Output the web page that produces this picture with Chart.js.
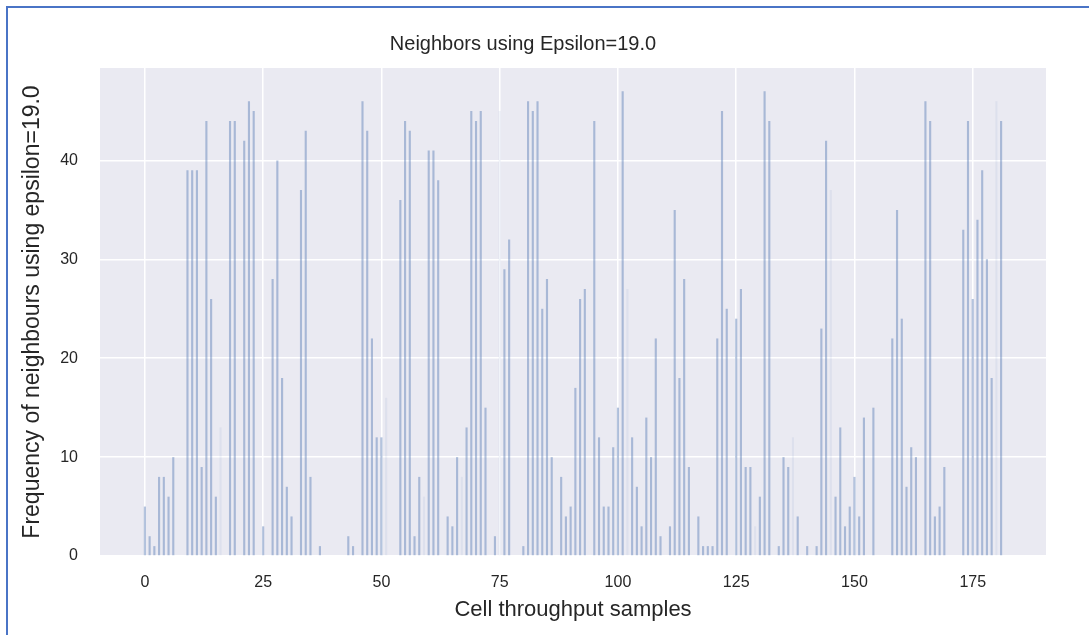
<!DOCTYPE html>
<html>
<head>
<meta charset="utf-8">
<script src="https://cdn.jsdelivr.net/npm/chart.js@4.4.1/dist/chart.umd.min.js"></script>
<style>
  html, body { margin: 0; padding: 0; background: #fff; }
  #wrap { position: relative; width: 1089px; height: 635px; overflow: hidden; }
  #frame { position: absolute; left: 6px; top: 6px; width: 1200px; height: 800px;
           border-top: 2px solid #4a74c6; border-left: 2px solid #4a74c6; pointer-events: none; }
</style>
</head>
<body>
<div id="wrap">
  <canvas id="chart" width="1089" height="635"></canvas>
  <div id="frame"></div>
</div>
<script>
// neighbour counts per sample
const counts = [
  5, 2, 1, 8, 8, 6, 10, 0, 0, 39,
  39, 39, 9, 44, 26, 6, 13, 0, 44, 44,
  0, 42, 46, 45, 0, 3, 0, 28, 40, 18,
  7, 4, 0, 37, 43, 8, 0, 1, 0, 0,
  0, 0, 0, 2, 1, 0, 46, 43, 22, 12,
  12, 16, 0, 0, 36, 44, 43, 2, 8, 6,
  41, 41, 38, 0, 4, 3, 10, 8, 13, 45,
  44, 45, 15, 0, 2, 45, 29, 32, 0, 0,
  1, 46, 45, 46, 25, 28, 10, 0, 8, 4,
  5, 17, 26, 27, 0, 44, 12, 5, 5, 11,
  15, 47, 27, 12, 7, 3, 14, 10, 22, 2,
  0, 3, 35, 18, 28, 9, 0, 4, 1, 1,
  1, 22, 45, 25, 0, 24, 27, 9, 9, 3,
  6, 47, 44, 0, 1, 10, 9, 12, 4, 0,
  1, 0, 1, 23, 42, 37, 6, 13, 3, 5,
  8, 4, 14, 0, 15, 0, 0, 0, 22, 35,
  24, 7, 11, 10, 0, 46, 44, 4, 5, 9,
  0, 0, 0, 33, 44, 26, 34, 39, 30, 18,
  46, 44
];
// samples whose bars show up only very faintly in the picture
const faintSamples = [16, 51, 59, 67, 75, 102, 129, 137, 145, 180];
const xTicks = [0, 25, 50, 75, 100, 125, 150, 175];
const yTicks = [0, 10, 20, 30, 40];

const points = counts.map((v, i) => ({ x: i, y: v }));

const plotBg = {
  id: 'plotBg',
  beforeDraw(chart) {
    const { ctx, chartArea: a } = chart;
    ctx.save();
    ctx.fillStyle = '#eaeaf2';
    ctx.fillRect(a.left, a.top, a.right - a.left, a.bottom - a.top);
    ctx.restore();
  }
};

const FONT = "'Liberation Sans', Arial, sans-serif";
const TXT = '#262626';

new Chart(document.getElementById('chart').getContext('2d'), {
  type: 'bar',
  data: {
    datasets: [{
      data: points,
      backgroundColor: ctx => faintSamples.includes(ctx.dataIndex) ? 'rgba(76,114,176,0.08)' : 'rgba(76,114,176,0.42)',
      borderWidth: 0,
      barPercentage: 0.45,
      categoryPercentage: 1
    }]
  },
  options: {
    responsive: false,
    animation: false,
    events: [],
    layout: { padding: { left: 0, right: 43, top: 0, bottom: 0 } },
    plugins: {
      legend: { display: false },
      tooltip: { enabled: false },
      title: {
        display: true,
        text: 'Neighbors using Epsilon=19.0',
        color: TXT,
        font: { family: FONT, size: 20, weight: 'normal' },
        padding: { top: 32, bottom: 12 }
      }
    },
    scales: {
      x: {
        type: 'linear',
        offset: false,
        min: -9.49,
        max: 190.49,
        afterBuildTicks: s => { s.ticks = xTicks.map(v => ({ value: v })); },
        afterFit: s => { s.height = 79; },
        border: { display: false },
        grid: { color: '#ffffff', lineWidth: 1.5, drawTicks: false, offset: false },
        ticks: { color: TXT, padding: 17, font: { family: FONT, size: 16 } },
        title: {
          display: true,
          text: 'Cell throughput samples',
          color: TXT,
          font: { family: FONT, size: 22 },
          padding: { top: 0, bottom: 12 }
        }
      },
      y: {
        min: 0,
        max: 49.35,
        afterBuildTicks: s => { s.ticks = yTicks.map(v => ({ value: v })); },
        afterFit: s => { s.width = 100; },
        border: { display: false },
        grid: { color: '#ffffff', lineWidth: 1.5, drawTicks: false },
        ticks: { color: TXT, padding: 22, font: { family: FONT, size: 16 } },
        title: {
          display: true,
          text: 'Frequency of neighbours using epsilon=19.0',
          color: TXT,
          font: { family: FONT, size: 23 },
          padding: { top: 19, bottom: 0 }
        }
      }
    }
  },
  plugins: [plotBg]
});
</script>
</body>
</html>
